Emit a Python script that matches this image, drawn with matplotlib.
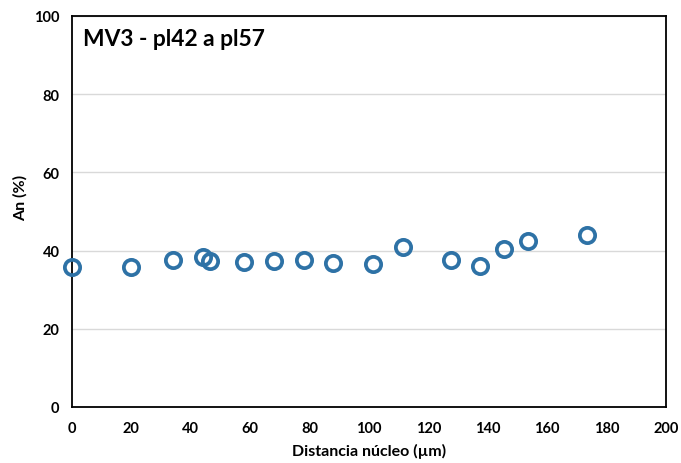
import matplotlib
matplotlib.use("Agg")
import matplotlib.pyplot as plt

# Distance from core (um) vs anorthite content (%)
distancia = [0, 20, 34, 44, 46.5, 58, 68, 78, 88, 101.5, 111.5, 127.5, 137.5, 145.5, 153.5, 173.5]
an = [35.8, 35.8, 37.7, 38.4, 37.3, 37.2, 37.4, 37.6, 36.9, 36.6, 40.8, 37.6, 36.1, 40.4, 42.4, 44.1]

xticks = list(range(0, 201, 20))
yticks = list(range(0, 101, 20))

plt.rcParams["font.family"] = ["Lato", "DejaVu Sans"]
plt.rcParams["font.weight"] = "bold"

fig = plt.figure(figsize=(6.81, 4.64), dpi=100, facecolor="white")
ax = fig.add_axes([0.1057, 0.1207, 0.8723, 0.8427])

ax.plot(distancia, an, linestyle="none", marker="o", markersize=11,
        markerfacecolor="none", markeredgecolor="#2e72a6", markeredgewidth=2.7,
        clip_on=False, zorder=5)

ax.set_xlim(0, 200)
ax.set_ylim(0, 100)
ax.set_xticks(xticks)
ax.set_yticks(yticks)
ax.tick_params(axis="x", length=0, labelsize=10.5, pad=10)
ax.tick_params(axis="y", length=0, labelsize=10.5, pad=9)
for lab in ax.get_xticklabels() + ax.get_yticklabels():
    lab.set_fontweight("bold")
ax.yaxis.grid(True, color="#d9d9d9", linewidth=1)
ax.set_axisbelow(True)
for s in ax.spines.values():
    s.set_linewidth(1.3)
    s.set_color("black")

ax.set_xlabel("Distancia núcleo (µm)", fontsize=11.5, fontweight="bold", labelpad=6)
ax.set_ylabel("An (%)", fontsize=11.5, fontweight="bold")
ax.yaxis.set_label_coords(-0.074, 0.537)

ax.text(0.018, 0.97, "MV3 - pl42 a pl57", transform=ax.transAxes,
        ha="left", va="top", fontsize=16.4, fontweight="bold")

fig.savefig("out.png", dpi=100)
